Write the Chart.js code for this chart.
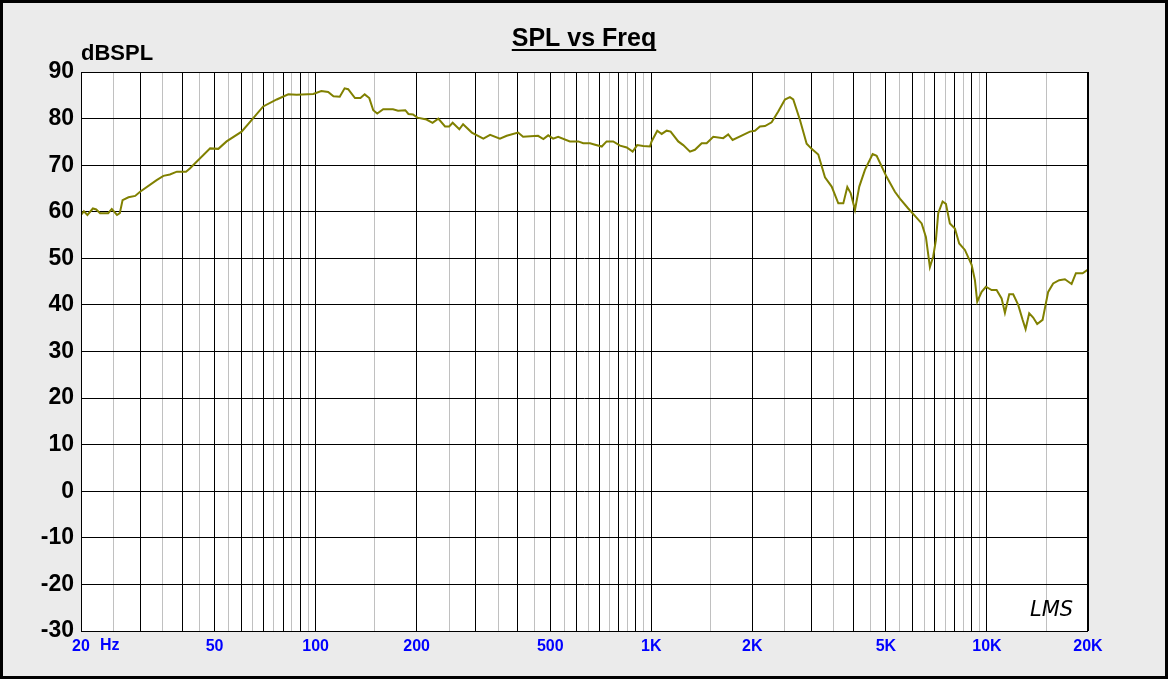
<!DOCTYPE html>
<html>
<head>
<meta charset="utf-8">
<script src="https://cdn.jsdelivr.net/npm/chart.js@4.4.1/dist/chart.umd.min.js"></script>
<style>
  html, body { margin: 0; padding: 0; background: #ebebeb; }
  #wrap { width: 1168px; height: 679px; }
</style>
</head>
<body>
<div id="wrap"><canvas id="spl-chart" width="1168" height="679"></canvas></div>
<script>
// SPL vs Freq
const freqHz = [
  20, 20.4, 20.9, 21.7, 22.2, 22.8, 24.1, 24.7, 25.6, 26.1, 26.6, 27.7, 29.0, 30.0,
  33.6, 35.2, 36.8, 38.6, 41.1, 42.2, 48.5, 51.3, 54.3, 60.2, 65.2, 69.8, 76.6,
  82.9, 87.8, 98.4, 104, 109, 113, 118, 122, 125, 131, 136, 140, 144.5, 148.5,
  152.6, 159, 170, 176, 185, 189, 195, 201, 214, 223, 232, 243, 250, 256, 268,
  275, 292, 316, 331, 354, 371, 401, 415, 460, 477, 493, 510, 528, 572, 606,
  627, 657, 672, 712, 736, 770, 807, 845, 880, 908, 946, 991, 1002, 1042, 1074,
  1111, 1142, 1203, 1245, 1304, 1349, 1413, 1462, 1530, 1638, 1695, 1747, 1879,
  1967, 2036, 2107, 2181, 2283, 2389, 2501, 2588, 2648, 2773, 2903, 3004, 3144,
  3292, 3447, 3607, 3733, 3837, 3926, 4044, 4165, 4330, 4565, 4692, 5024, 5318,
  5505, 5828, 6102, 6389, 6578, 6761, 6916, 7045, 7159, 7377, 7546, 7755, 8027,
  8267, 8596, 9002, 9208, 9354, 9643, 9930, 10326, 10685, 11056, 11311, 11650,
  11972, 12390, 12770, 13036, 13362, 13733, 14116, 14646, 15218, 15750, 16412,
  17068, 17870, 18408, 19274, 20000
];
const splDb = [
  59.3, 60.1, 59.3, 60.7, 60.5, 59.7, 59.7, 60.6, 59.3, 59.7, 62.5, 63.1, 63.4, 64.3,
  66.8, 67.7, 68.0, 68.6, 68.6, 69.3, 73.6, 73.5, 75.1, 77.2, 80.1, 82.6, 84.1,
  85.2, 85.1, 85.3, 85.9, 85.7, 84.8, 84.7, 86.5, 86.3, 84.4, 84.4, 85.2, 84.4, 81.8,
  81.1, 82.0, 82.0, 81.7, 81.8, 81.0, 80.9, 80.2, 79.8, 79.1, 80.0, 78.3, 78.3, 79.1, 77.7,
  78.8, 77.0, 75.7, 76.5, 75.7, 76.3, 77.0, 76.1, 76.3, 75.6, 76.4, 75.7, 76.1, 75.1, 75.1,
  74.7, 74.7, 74.5, 74.0, 75.1, 75.1, 74.2, 73.8, 72.9, 74.3, 74.1, 74.0, 75.1, 77.4, 76.7,
  77.4, 77.2, 75.1, 74.3, 72.9, 73.3, 74.7, 74.7, 76.1, 75.8, 76.6, 75.4, 76.5,
  77.2, 77.4, 78.3, 78.4, 79.2, 81.5, 84.1, 84.6, 84.1, 79.7, 74.6, 73.5, 72.3,
  67.4, 65.4, 61.8, 61.8, 65.3, 64.0, 60.4, 65.4, 69.0, 72.4, 72.0, 67.5, 64.3,
  62.8, 60.7, 59.1, 57.5, 54.6, 48.1, 50.4, 53.9, 59.7, 62.2, 61.7, 57.5, 56.4,
  53.2, 51.8, 48.6, 45.3, 40.7, 42.8, 43.9, 43.2, 43.2, 41.4, 38.3, 42.3,
  42.3, 40.0, 36.8, 34.8, 38.2, 37.3, 35.9, 36.8, 42.8, 44.6, 45.3,
  45.5, 44.5, 46.8, 46.8, 47.6
];

// labelled frequencies on the x axis
const xLabelFreqs = [20, 50, 100, 200, 500, 1000, 2000, 5000, 10000, 20000];
const xLabelText = ["20", "50", "100", "200", "500", "1K", "2K", "5K", "10K", "20K"];

const PANEL_COLOR = "#ebebeb";
const LINE_COLOR = "#808000";
const MAJOR_GRID = "#000000";
const MINOR_GRID = "#c0c0c0";
const FONT = "'Liberation Sans', Arial, sans-serif";

const points = freqHz.map(function (f, i) {
  return { x: f, y: splDb[i] };
});

// grid positions: every k*10^n (black) and (k+0.5)*10^n (grey)
function buildLogTicks() {
  const ticks = [];
  [10, 100, 1000, 10000].forEach(function (dec) {
    for (let m = 1; m < 10; m += 0.5) {
      const v = Math.round(m * dec);
      if (v >= 20 && v <= 20000) ticks.push({ value: v });
    }
  });
  return ticks;
}

function isMajorFreq(v) {
  const dec = Math.pow(10, Math.floor(Math.log10(v) + 1e-9));
  return Math.abs(v / dec - Math.round(v / dec)) < 1e-6;
}

const framePlugin = {
  id: "lmsFrame",
  beforeDraw(chart) {
    const ctx = chart.ctx;
    const a = chart.chartArea;
    ctx.save();
    ctx.fillStyle = PANEL_COLOR;
    ctx.fillRect(0, 0, chart.width, chart.height);
    ctx.fillStyle = "#ffffff";
    ctx.fillRect(a.left, a.top, a.right - a.left, a.bottom - a.top);
    ctx.restore();
  },
  afterDraw(chart) {
    const ctx = chart.ctx;
    const a = chart.chartArea;
    ctx.save();

    // plot border
    ctx.strokeStyle = "#000";
    ctx.lineWidth = 1;
    ctx.strokeRect(a.left + 0.5, a.top + 0.5, a.right - a.left - 1, a.bottom - a.top);

    // outer frame
    ctx.lineWidth = 3;
    ctx.strokeRect(1.5, 1.5, chart.width - 3, chart.height - 3);

    // title, underlined
    ctx.fillStyle = "#000";
    ctx.font = "bold 25px " + FONT;
    ctx.textAlign = "center";
    ctx.textBaseline = "alphabetic";
    const title = "SPL vs Freq";
    const tx = 584, ty = 46;
    ctx.fillText(title, tx, ty);
    const tw = ctx.measureText(title).width;
    ctx.fillRect(tx - tw / 2, ty + 3, tw, 2);

    // y unit
    ctx.font = "bold 22px " + FONT;
    ctx.textAlign = "left";
    ctx.fillText("dBSPL", 81, 60);

    // "Hz" after the first frequency label
    ctx.fillStyle = "#0000ff";
    ctx.font = "bold 16px " + FONT;
    ctx.textBaseline = "middle";
    ctx.fillText("Hz", 100, 646);

    // signature
    ctx.fillStyle = "#000";
    ctx.font = "italic 21px 'DejaVu Sans', sans-serif";
    ctx.textBaseline = "alphabetic";
    ctx.fillText("LMS", 1030, 616);

    ctx.restore();
  },
};

const ctx = document.getElementById("spl-chart").getContext("2d");

new Chart(ctx, {
  type: "scatter",
  data: {
    datasets: [
      {
        label: "SPL",
        data: points,
        showLine: true,
        borderColor: LINE_COLOR,
        borderWidth: 2,
        pointRadius: 0,
        tension: 0,
        fill: false,
      },
    ],
  },
  options: {
    responsive: false,
    animation: false,
    devicePixelRatio: 1,
    layout: {
      padding: { top: 72, right: 80, left: 0, bottom: 0 },
    },
    plugins: {
      legend: { display: false },
      title: { display: false },
      tooltip: { enabled: false },
    },
    scales: {
      x: {
        type: "logarithmic",
        min: 20,
        max: 20000,
        afterBuildTicks: function (scale) {
          scale.ticks = buildLogTicks();
        },
        afterFit: function (scale) {
          scale.height = 48;
        },
        border: { display: false },
        grid: {
          drawTicks: false,
          color: function (context) {
            return isMajorFreq(context.tick.value) ? MAJOR_GRID : MINOR_GRID;
          },
        },
        ticks: {
          autoSkip: false,
          maxRotation: 0,
          padding: 6,
          color: "#0000ff",
          font: { family: FONT, size: 16, weight: "bold" },
          callback: function (value) {
            const i = xLabelFreqs.indexOf(Math.round(value));
            return i >= 0 ? xLabelText[i] : "";
          },
        },
      },
      y: {
        min: -30,
        max: 90,
        afterFit: function (scale) {
          scale.width = 81;
        },
        border: { display: false },
        grid: {
          drawTicks: false,
          color: function (context) {
            return context.tick.value % 10 === 0 ? MAJOR_GRID : MINOR_GRID;
          },
        },
        ticks: {
          stepSize: 5,
          padding: 7,
          color: "#000000",
          font: { family: FONT, size: 23, weight: "bold" },
          callback: function (value) {
            return value % 10 === 0 ? String(value) : "";
          },
        },
      },
    },
  },
  plugins: [framePlugin],
});
</script>
</body>
</html>
